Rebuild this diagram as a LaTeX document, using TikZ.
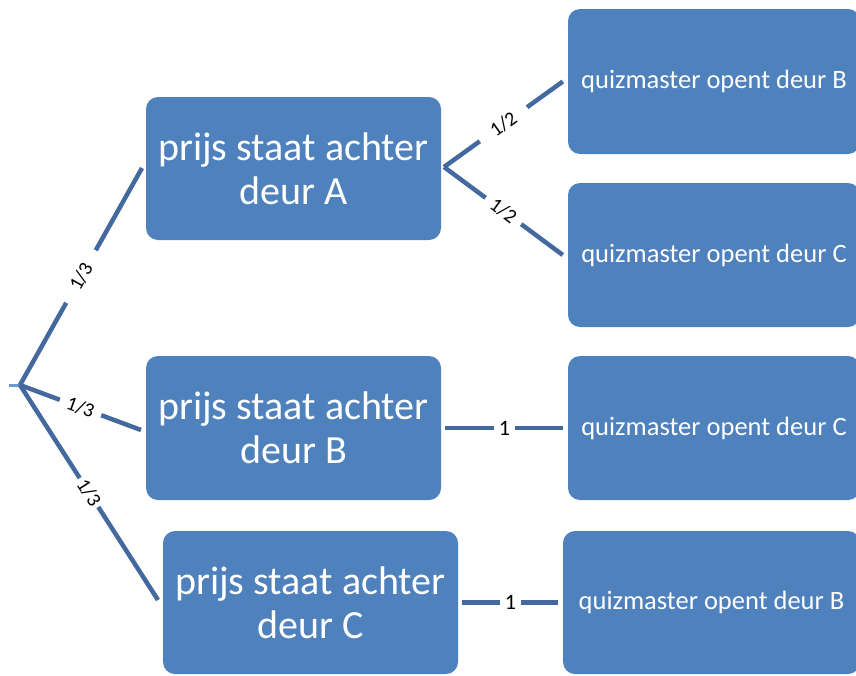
\documentclass[tikz,border=0pt]{standalone}
\usepackage{fontspec}
\setmainfont{Carlito}
\definecolor{boxblue}{HTML}{4F81BD}
\definecolor{lineblue}{HTML}{44699E}
\definecolor{tickblue}{HTML}{6F97CB}
\begin{document}
\begin{tikzpicture}[x=1pt,y=-1pt,
  bigbox/.style={rectangle,rounded corners=12pt,fill=boxblue,text=white,
    minimum width=295pt,minimum height=143pt,inner sep=0pt,align=center,
    font=\fontsize{40}{44}\selectfont},
  smallbox/.style={rectangle,rounded corners=12pt,fill=boxblue,text=white,
    minimum height=144pt,inner sep=0pt,align=center,
    font=\fontsize{26.5}{30}\selectfont},
  conn/.style={draw=lineblue,line width=4.5pt},
  lab/.style={fill=white,font=\fontsize{20}{20}\selectfont,sloped,inner ysep=1pt}]
\useasboundingbox (0,0) rectangle (856,675);
\clip (0,0) rectangle (856,675);
% main boxes
\node[bigbox] (A) at (293.5,168.5) {prijs staat achter\\deur A};
\node[bigbox,minimum height=144pt] (B) at (293.5,428) {prijs staat achter\\deur B};
\node[bigbox] (C) at (310.5,602.5) {prijs staat achter\\deur C};
% right boxes
\node[smallbox,minimum width=292pt,minimum height=145pt] (RA1) at (714,81.5) {quizmaster opent deur B};
\node[smallbox,minimum width=292pt] (RA2) at (714,255) {quizmaster opent deur C};
\node[smallbox,minimum width=292pt] (RB) at (714,428) {quizmaster opent deur C};
\node[smallbox,minimum width=297pt,minimum height=143pt] (RC) at (711.5,602.5) {quizmaster opent deur B};
% root
\coordinate (root) at (20,385);
\coordinate (tick) at (9,385);
\draw[draw=tickblue,line width=3pt] (tick) -- (root);
\coordinate (Ain) at (142,168);
\coordinate (Bin) at (141,430);
\coordinate (Cin) at (158,600);
\draw[conn] (root) -- node[lab,inner xsep=16pt]{1/3} (Ain);
\draw[conn] (root) -- node[lab,inner xsep=8pt]{1/3} (Bin);
\draw[conn] (root) -- node[lab,inner xsep=3pt]{1/3} (Cin);
% from A
\coordinate (Aout) at (444,167);
\draw[conn] (Aout) -- node[lab,inner xsep=15pt]{1/2} ([xshift=-5pt]RA1.west);
\draw[conn] (Aout) -- node[lab,inner xsep=8pt]{1/2} ([xshift=-5pt]RA2.west);
% from B and C
\draw[conn,shorten <=4pt,shorten >=5pt] (B.east) -- node[lab,inner xsep=5pt,font=\fontsize{22}{22}\selectfont]{1} (RB.west);
\draw[conn,shorten <=4pt,shorten >=5pt] (C.east) -- node[lab,inner xsep=5pt,font=\fontsize{22}{22}\selectfont]{1} (RC.west);
\end{tikzpicture}
\end{document}
